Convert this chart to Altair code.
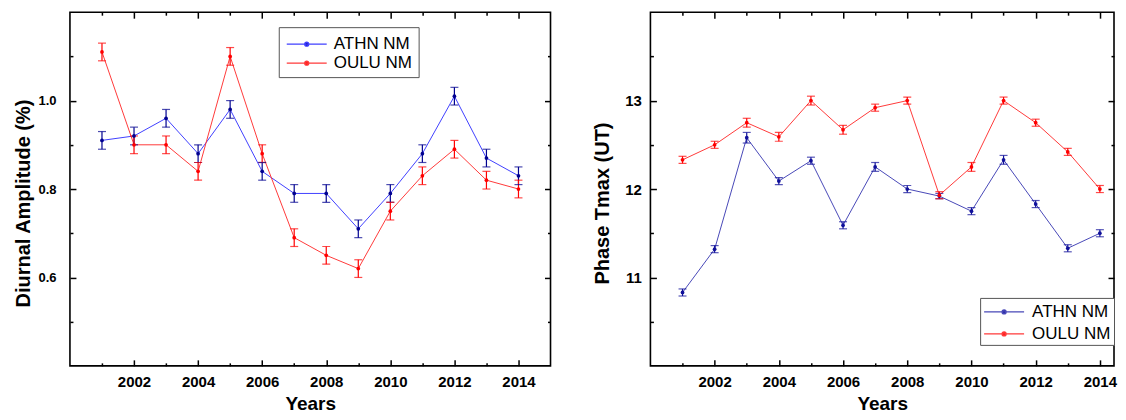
import altair as alt
import pandas as pd

years = [2001, 2002, 2003, 2004, 2005, 2006, 2007, 2008, 2009, 2010, 2011, 2012, 2013, 2014]
series = ["ATHN NM", "OULU NM"]

# Left panel: diurnal amplitude (%)
amp_athn = [0.91, 0.92, 0.96, 0.88, 0.98, 0.84, 0.79, 0.79, 0.71, 0.79, 0.88, 1.01, 0.87, 0.83]
amp_athn_err = [0.02, 0.02, 0.02, 0.02, 0.02, 0.02, 0.02, 0.02, 0.02, 0.02, 0.02, 0.02, 0.02, 0.02]
amp_oulu = [1.11, 0.90, 0.90, 0.84, 1.10, 0.88, 0.69, 0.65, 0.62, 0.75, 0.83, 0.89, 0.82, 0.80]
amp_oulu_err = [0.02, 0.02, 0.02, 0.02, 0.02, 0.02, 0.02, 0.02, 0.02, 0.02, 0.02, 0.02, 0.02, 0.02]

# Right panel: phase Tmax (UT)
ph_athn = [10.83, 11.32, 12.58, 12.09, 12.32, 11.59, 12.25, 12.00, 11.92, 11.75, 12.33, 11.83, 11.33, 11.50]
ph_athn_err = [0.04, 0.04, 0.06, 0.04, 0.04, 0.04, 0.05, 0.04, 0.03, 0.04, 0.05, 0.04, 0.04, 0.04]
ph_oulu = [12.33, 12.50, 12.75, 12.59, 13.00, 12.67, 12.92, 13.00, 11.93, 12.25, 13.00, 12.75, 12.42, 12.00]
ph_oulu_err = [0.04, 0.04, 0.05, 0.05, 0.05, 0.05, 0.04, 0.04, 0.04, 0.05, 0.04, 0.04, 0.04, 0.04]

x_major = [2002, 2004, 2006, 2008, 2010, 2012, 2014]
x_minor = [2001, 2003, 2005, 2007, 2009, 2011, 2013]
amp_major = [0.6, 0.8, 1.0]
amp_minor = [0.5, 0.7, 0.9, 1.1]
ph_major = [11, 12, 13]
ph_minor = [10.5, 11.5, 12.5, 13.5]

FONT = "Liberation Sans"
LEGEND_SYMBOL = "M-2,0H2M-0.2,0A0.2,0.2 0 1,0 0.2,0A0.2,0.2 0 1,0 -0.2,0Z"
PLOT_H = 354


def make_df(a, a_err, o, o_err):
    rows = []
    for name, vals, errs in [(series[0], a, a_err), (series[1], o, o_err)]:
        for yr, v, e in zip(years, vals, errs):
            rows.append({"year": yr, "series": name, "value": v, "lo": v - e, "hi": v + e})
    return pd.DataFrame(rows)


def axis(orient, values, size, offset, labels=False, title=None, fmt=None, label_pad=9,
         label_size=15, title_pad=10, title_y=None, title_size=20, reserve=True):
    kw = dict(orient=orient, values=values, tickSize=size, offset=offset, domain=False,
              grid=False, labels=labels, title=title, tickColor="black", tickWidth=1.5,
              minExtent=0, maxExtent=(300 if reserve else 0))
    if labels:
        kw.update(labelFont=FONT, labelFontSize=label_size, labelFontWeight="bold",
                  labelColor="black", labelPadding=label_pad)
        if fmt:
            kw["format"] = fmt
    if title:
        kw.update(titleFont=FONT, titleFontSize=title_size, titleFontWeight="bold",
                  titleColor="black", titlePadding=title_pad)
        if title_y is not None:
            kw["titleY"] = title_y
    return alt.Axis(**kw)


def panel(df, xdom, ydom, ymaj, ymin, ytitle, yfmt, line_colors, dark_colors,
          lx, ly, width, leg_pad, row_pad, sym_off, lab_off,
          ylabel_pad, ylabel_size, ytitle_pad):
    xs = alt.Scale(domain=xdom, nice=False, zero=False)
    ys = alt.Scale(domain=ydom, nice=False, zero=False)
    base = alt.Chart(df)

    lines = base.mark_line(strokeWidth=1).encode(
        x=alt.X("year:Q", scale=xs,
                axis=axis("bottom", x_major, 6, -6, labels=True, title="Years", fmt="d",
                          label_pad=9, title_pad=5, title_size=19)),
        y=alt.Y("value:Q", scale=ys,
                axis=axis("left", ymaj, 6, -6, labels=True, title=ytitle, fmt=yfmt,
                          label_pad=ylabel_pad, label_size=ylabel_size,
                          title_pad=ytitle_pad, title_y=191)),
        color=alt.Color("series:N", scale=alt.Scale(domain=series, range=line_colors),
                        legend=alt.Legend(orient="none", legendX=lx, legendY=ly, title=None,
                                          symbolType=LEGEND_SYMBOL, symbolSize=400,
                                          symbolStrokeWidth=1.3, symbolOffset=sym_off,
                                          labelFont=FONT, labelFontSize=17,
                                          labelColor="black", labelOffset=lab_off,
                                          strokeColor="#555555", fillColor="white",
                                          padding=leg_pad, rowPadding=row_pad)),
    )
    points = base.mark_circle(size=14, opacity=1).encode(
        x=alt.X("year:Q", scale=xs, axis=axis("bottom", x_minor, 3, -3, reserve=False)),
        y=alt.Y("value:Q", scale=ys, axis=axis("left", ymin, 3, -3, reserve=False)),
        fill=alt.Fill("series:N", scale=alt.Scale(domain=series, range=dark_colors), legend=None),
    )
    # mirror ticks along the top and right frame edges, pointing inward
    bars = base.mark_rule(strokeWidth=1.2).encode(
        x=alt.X("year:Q", scale=xs, axis=axis("bottom", x_major, 6, -PLOT_H, reserve=False)),
        y=alt.Y("lo:Q", scale=ys, axis=axis("left", ymaj, 6, -width, reserve=False)),
        y2="hi:Q",
        stroke=alt.Stroke("series:N", scale=alt.Scale(domain=series, range=dark_colors), legend=None),
    )
    cap_lo = base.mark_tick(orient="horizontal", size=8, thickness=1.2).encode(
        x=alt.X("year:Q", scale=xs, axis=axis("bottom", x_minor, 3, -PLOT_H, reserve=False)),
        y=alt.Y("lo:Q", scale=ys, axis=axis("left", ymin, 3, -width, reserve=False)),
        fill=alt.Fill("series:N", scale=alt.Scale(domain=series, range=dark_colors), legend=None),
    )
    cap_hi = base.mark_tick(orient="horizontal", size=8, thickness=1.2).encode(
        x=alt.X("year:Q", scale=xs, axis=None),
        y=alt.Y("hi:Q", scale=ys, axis=None),
        fill=alt.Fill("series:N", scale=alt.Scale(domain=series, range=dark_colors), legend=None),
    )
    return alt.layer(lines, bars, cap_lo, cap_hi, points).resolve_axis(
        x="independent", y="independent"
    ).properties(width=width, height=PLOT_H)


left = panel(make_df(amp_athn, amp_athn_err, amp_oulu, amp_oulu_err),
             [2000, 2015], [0.4, 1.2], amp_major, amp_minor,
             "Diurnal Amplitude (%)", ".1f",
             ["#4040ff", "#ff3a3a"], ["#000090", "#ff0000"],
             209, 15, 481, 6, 0, 11, 16, 14, 13, 4)
right = panel(make_df(ph_athn, ph_athn_err, ph_oulu, ph_oulu_err),
              [2000, 2014.44], [10, 14], ph_major, ph_minor,
              "Phase Tmax (UT)", "d",
              ["#4848b8", "#ff3a3a"], ["#10109a", "#ff0000"],
              330, 286, 464, 3, 3, 10, 17, 9, 15, 12)

chart = alt.hconcat(left, right, spacing=39).resolve_scale(
    color="independent", fill="independent", stroke="independent"
).properties(
    padding={"left": 5, "top": 2, "right": 0, "bottom": 0},
    background="white"
).configure_view(
    stroke="black", strokeWidth=1.6
)

chart.save("out.html", embed_options={"renderer": "svg", "actions": False})
